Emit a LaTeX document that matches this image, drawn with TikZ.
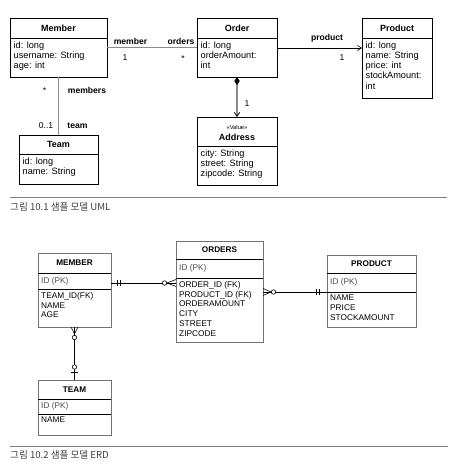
\documentclass[tikz,border=0pt]{standalone}
\usepackage{fontspec}
\setmainfont{Liberation Sans}
\newfontfamily\krfont{Noto Sans CJK KR}
\usetikzlibrary{arrows.meta,calc}
\tikzset{
  umlbox/.style={draw=black, line width=0.7pt, inner sep=0pt, outer sep=0pt, anchor=north west},
  umlsep/.style={draw=black, line width=0.7pt},
  umltitle/.style={font=\bfseries\fontsize{9}{10}\selectfont, inner sep=0pt, align=center},
  umlattr/.style={font=\fontsize{9.2}{10.2}\selectfont, inner sep=0pt, align=left, anchor=north west},
  umllabel/.style={font=\bfseries\fontsize{8.6}{10}\selectfont, inner sep=0pt},
  umlmult/.style={font=\fontsize{8.6}{10}\selectfont, inner sep=0pt},
  assoc/.style={draw=black!45, line width=1.4pt},
  erdbox/.style={draw=black!55, line width=0.8pt, inner sep=0pt, outer sep=0pt, anchor=north west},
  erdsep/.style={draw=black, line width=0.7pt},
  erdtitle/.style={font=\bfseries\fontsize{8.2}{9}\selectfont, inner sep=0pt},
  erdpk/.style={font=\fontsize{8.3}{9.8}\selectfont, text=black!70, inner sep=0pt, anchor=west},
  erdattr/.style={font=\fontsize{8.3}{9.8}\selectfont, inner sep=0pt, align=left, anchor=north west},
  erdline/.style={draw=black, line width=0.6pt},
  rule/.style={draw=black!50, line width=0.8pt},
  caption/.style={font=\krfont\fontsize{9.6}{11}\selectfont, text=black!75, inner sep=0pt, anchor=west}
}
% name, x, y, w, h, header height, title, attributes
\newcommand\umlclass[8]{%
  \node[umlbox, minimum width=#4pt, minimum height=#5pt] (#1) at (#2,#3) {};
  \draw[umlsep] ([yshift=-#6pt]#1.north west) -- ([yshift=-#6pt]#1.north east);
  \node[umltitle] at ($(#1.north west)!0.5!(#1.north east)+(0,#6/2)$) {#7};
  \node[umlattr] at ($(#1.north west)+(3.5,#6+3.5)$) {#8};
}
% name, x, y, w, h, header h, pk h, title, attributes
\newcommand\erdentity[9]{%
  \node[erdbox, minimum width=#4pt, minimum height=#5pt] (#1) at (#2,#3) {};
  \draw[erdsep] ([yshift=-#6pt]#1.north west) -- ([yshift=-#6pt]#1.north east);
  \draw[erdsep] ([yshift=-#6pt-#7pt]#1.north west) -- ([yshift=-#6pt-#7pt]#1.north east);
  \node[erdtitle] at ($(#1.north west)!0.5!(#1.north east)+(0,#6/2)$) {#8};
  \node[erdpk] at ($(#1.north west)+(3,#6+#7/2)$) {ID (PK)};
  \node[erdattr] at ($(#1.north west)+(3,#6+#7+3)$) {#9};
}
\begin{document}
\begin{tikzpicture}[x=1pt,y=-1pt]
\useasboundingbox[fill=white] (0,0) rectangle (466,470);

% ---------------- UML ----------------
\umlclass{member}{10}{18}{97}{59}{20}{Member}{id: long\\username: String\\age: int}
\umlclass{order}{197}{18}{80}{59}{20}{Order}{id: long\\orderAmount:\\int}
\umlclass{product}{362}{18}{70}{80}{20}{Product}{id: long\\name: String\\price: int\\stockAmount:\\int}
\umlclass{team}{19}{135}{79}{49}{19}{Team}{id: long\\name: String}
\node[umlbox, minimum width=80pt, minimum height=68pt] (address) at (197,117) {};
\draw[umlsep] ([yshift=-29pt]address.north west) -- ([yshift=-29pt]address.north east);
\node[umlmult, font=\fontsize{5.8}{7}\selectfont] (stereo) at ($(address.north)+(0,10)$) {«Value»};
\node[umltitle] (addrtitle) at ($(address.north)+(0,20.5)$) {Address};
\node[umlattr] (addrattr) at ($(address.north west)+(3.5,32.5)$) {city: String\\street: String\\zipcode: String};

% associations
\draw[assoc] (member.east) -- (order.west);
\node[umllabel] (lmember) at (130.5,41.5) {member};
\node[umllabel] (lorders) at (181,41.5) {orders};
\node[umlmult] (m1) at (125,57.5) {1};
\node[umlmult] (m2) at (183,58.5) {*};

\draw[assoc] (member.south) -- (team.north);
\node[umlmult] (m3) at (44.5,91) {*};
\node[umllabel] (lmembers) at (87,90) {members};
\node[umlmult] (m4) at (46,126) {0..1};
\node[umllabel] (lteam) at (77.5,126) {team};

\coordinate (opA) at ($(order.north east)+(0,30)$);
\coordinate (opB) at (opA -| product.west);
\draw[draw=black, line width=0.6pt, -{Straight Barb[length=4pt,width=5pt]}] (opA) -- (opB);
\node[umllabel] (lproduct) at (327,38.5) {product};
\node[umlmult] (m5) at (342,57.5) {1};

\draw[assoc, {Diamond[color=black,length=8pt,width=5.5pt]}-{Straight Barb[color=black,length=4pt,width=5.5pt,line width=0.8pt]}]
  (order.south) -- (address.north);
\node[umlmult] (m6) at (247,104) {1};

\draw[rule] (10,197) -- (447,197);
\node[caption] (cap1) at (10,207) {그림 10.1 샘플 모델 UML};

% ---------------- ERD ----------------
\erdentity{emember}{38}{253}{73}{74}{20}{16}{MEMBER}{TEAM\_ID(FK)\\NAME\\AGE}
\erdentity{eorders}{176}{241}{87}{101}{18}{19}{ORDERS}{ORDER\_ID (FK)\\PRODUCT\_ID (FK)\\ORDERAMOUNT\\CITY\\STREET\\ZIPCODE}
\erdentity{eproduct}{327}{255}{89}{72}{18}{19}{PRODUCT}{NAME\\PRICE\\STOCKAMOUNT}
\erdentity{eteam}{38}{380}{73}{55}{19}{15}{TEAM}{NAME}

% MEMBER -- ORDERS
\coordinate (mo1) at ($(emember.north east)+(0,30)$);
\coordinate (mo2) at (mo1 -| eorders.west);
\draw[erdline] (mo1) -- (mo2);
\draw[erdline] ($(mo1)+(6,-3)$) -- ++(0,6);
\draw[erdline] ($(mo1)+(9,-3)$) -- ++(0,6);
\draw[erdline] ($(mo2)+(-9,0)$) -- ($(mo2)+(0,-3.5)$);
\draw[erdline] ($(mo2)+(-9,0)$) -- ($(mo2)+(0,3.5)$);
\draw[erdline, fill=white] ($(mo2)+(-11.5,0)$) circle[radius=2.2pt];

% ORDERS -- PRODUCT
\coordinate (op1) at ($(eorders.north east)+(0,51)$);
\coordinate (op2) at (op1 -| eproduct.west);
\draw[erdline] (op1) -- (op2);
\draw[erdline] ($(op1)+(8,0)$) -- ($(op1)+(0,-3.5)$);
\draw[erdline] ($(op1)+(8,0)$) -- ($(op1)+(0,3.5)$);
\draw[erdline, fill=white] ($(op1)+(10.5,0)$) circle[radius=2.2pt];
\draw[erdline] ($(op2)+(-11,-3)$) -- ++(0,6);
\draw[erdline] ($(op2)+(-8,-3)$) -- ++(0,6);

% MEMBER -- TEAM
\draw[erdline] (emember.south) -- (eteam.north);
\draw[erdline] ($(emember.south)+(0,7)$) -- ($(emember.south)+(-3.5,0)$);
\draw[erdline] ($(emember.south)+(0,7)$) -- ($(emember.south)+(3.5,0)$);
\draw[erdline, fill=white] ($(emember.south)+(0,10.5)$) circle[radius=2.2pt];
\draw[erdline, fill=white] ($(eteam.north)+(0,-13)$) circle[radius=2.2pt];
\draw[erdline] ($(eteam.north)+(-3.5,-8)$) -- ++(7,0);

\draw[rule] (10,446) -- (448,446);
\node[caption] (cap2) at (10,455) {그림 10.2 샘플 모델 ERD};
\end{tikzpicture}
\end{document}
